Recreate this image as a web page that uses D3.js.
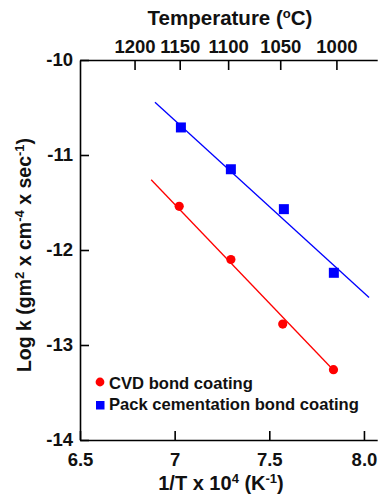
<!DOCTYPE html>
<html>
<head>
<meta charset="utf-8">
<script src="https://cdn.jsdelivr.net/npm/d3@7"></script>
<style>
  html, body { margin: 0; padding: 0; background: #fff; }
  text { font-family: "Liberation Sans", Arial, sans-serif; font-weight: bold; fill: #111; }
</style>
</head>
<body>
<svg id="chart" width="382" height="498"></svg>
<script>
// Arrhenius data: inverse temperature (1e4/T, K^-1) vs log rate constant
const invT_cvd = [7.024, 7.297, 7.571, 7.839];
const logk_cvd = [-11.54, -12.10, -12.78, -13.26];
const invT_pack = [7.033, 7.297, 7.577, 7.841];
const logk_pack = [-10.71, -11.15, -11.57, -12.24];

// Fitted lines (endpoints of each regression segment)
const fit_cvd_x = [6.876, 7.837];
const fit_cvd_y = [-11.26, -13.26];
const fit_pack_x = [6.896, 8.027];
const fit_pack_y = [-10.445, -12.50];

const xTicks = [6.5, 7, 7.5, 8.0];
const xTickLabels = ["6.5", "7", "7.5", "8.0"];
const yTicks = [-14, -13, -12, -11, -10];
const yTickLabels = ["-14", "-13", "-12", "-11", "-10"];
const tempTicks = [1200, 1150, 1100, 1050, 1000];

const seriesNames = ["CVD bond coating", "Pack cementation bond coating"];
const colors = ["#ff0000", "#0000ff"];

const svg = d3.select("#chart");
const x = d3.scaleLinear().domain([6.5, 8.07]).range([80, 377.2]);
const y = d3.scaleLinear().domain([-14, -10]).range([440, 60]);

const axisStroke = g => {
  g.select(".domain").attr("stroke", "#000").attr("stroke-width", 1.6);
  g.selectAll(".tick line").attr("stroke", "#000").attr("stroke-width", 1.6);
  g.selectAll(".tick text").style("font-size", "18.5px").attr("fill", "#111");
};

// bottom axis (ticks point inward)
svg.append("g")
  .attr("transform", `translate(0,${y(-14)})`)
  .call(d3.axisBottom(x).tickValues(xTicks).tickFormat((d, i) => xTickLabels[i])
        .tickSizeInner(-9).tickSizeOuter(0).tickPadding(13))
  .call(axisStroke);

// left axis
svg.append("g")
  .attr("transform", `translate(${x(6.5)},0)`)
  .call(d3.axisLeft(y).tickValues(yTicks).tickFormat((d, i) => yTickLabels[i])
        .tickSizeInner(-9).tickSizeOuter(0).tickPadding(7))
  .call(axisStroke);

// top axis: temperature in Celsius mapped onto 1e4/T
svg.append("g")
  .attr("transform", `translate(0,${y(-10)})`)
  .call(d3.axisTop(x).tickValues(tempTicks.map(t => 1e4 / (t + 273.15)))
        .tickFormat((d, i) => tempTicks[i])
        .tickSizeInner(-10).tickSizeOuter(0).tickPadding(7))
  .call(axisStroke);

// axis titles
svg.append("text")
  .attr("x", 230).attr("y", 25)
  .attr("text-anchor", "middle")
  .style("font-size", "20.5px")
  .call(t => {
    t.append("tspan").text("Temperature (");
    t.append("tspan").text("o").style("font-size", "13px").attr("dy", -7);
    t.append("tspan").text("C)").attr("dy", 7);
  });

svg.append("text")
  .attr("x", 221).attr("y", 490)
  .attr("text-anchor", "middle")
  .style("font-size", "20px")
  .call(t => {
    t.append("tspan").text("1/T x 10");
    t.append("tspan").text("4").style("font-size", "13px").attr("dy", -7);
    t.append("tspan").text(" (K").attr("dy", 7);
    t.append("tspan").text("-1").style("font-size", "13px").attr("dy", -7);
    t.append("tspan").text(")").attr("dy", 7);
  });

svg.append("text")
  .attr("transform", "translate(31,255) rotate(-90)")
  .attr("text-anchor", "middle")
  .style("font-size", "19.5px")
  .call(t => {
    t.append("tspan").text("Log k (gm");
    t.append("tspan").text("2").style("font-size", "13px").attr("dy", -7);
    t.append("tspan").text(" x cm").attr("dy", 7);
    t.append("tspan").text("-4").style("font-size", "13px").attr("dy", -7);
    t.append("tspan").text(" x sec").attr("dy", 7);
    t.append("tspan").text("-1").style("font-size", "13px").attr("dy", -7);
    t.append("tspan").text(")").attr("dy", 7);
  });

// fit lines
const line = d3.line().x(d => x(d[0])).y(d => y(d[1]));
svg.append("path")
  .datum(d3.zip(fit_cvd_x, fit_cvd_y))
  .attr("d", line).attr("fill", "none").attr("stroke", colors[0]).attr("stroke-width", 1.3);
svg.append("path")
  .datum(d3.zip(fit_pack_x, fit_pack_y))
  .attr("d", line).attr("fill", "none").attr("stroke", colors[1]).attr("stroke-width", 1.3);

// markers
svg.append("g").selectAll("circle")
  .data(d3.zip(invT_cvd, logk_cvd))
  .join("circle")
  .attr("cx", d => x(d[0])).attr("cy", d => y(d[1]))
  .attr("r", 4.6).attr("fill", colors[0]);

const sq = 10;
svg.append("g").selectAll("rect")
  .data(d3.zip(invT_pack, logk_pack))
  .join("rect")
  .attr("x", d => x(d[0]) - sq / 2).attr("y", d => y(d[1]) - sq / 2)
  .attr("width", sq).attr("height", sq).attr("fill", colors[1]);

// legend
const legend = svg.append("g");
legend.append("circle").attr("cx", 100).attr("cy", 382).attr("r", 4.4).attr("fill", colors[0]);
legend.append("rect").attr("x", 96).attr("y", 401).attr("width", 8.5).attr("height", 8.5).attr("fill", colors[1]);
legend.selectAll("text")
  .data(seriesNames)
  .join("text")
  .attr("x", 109)
  .attr("y", (d, i) => 388.5 + i * 21.5)
  .style("font-size", "16.6px")
  .text(d => d);
</script>
</body>
</html>
